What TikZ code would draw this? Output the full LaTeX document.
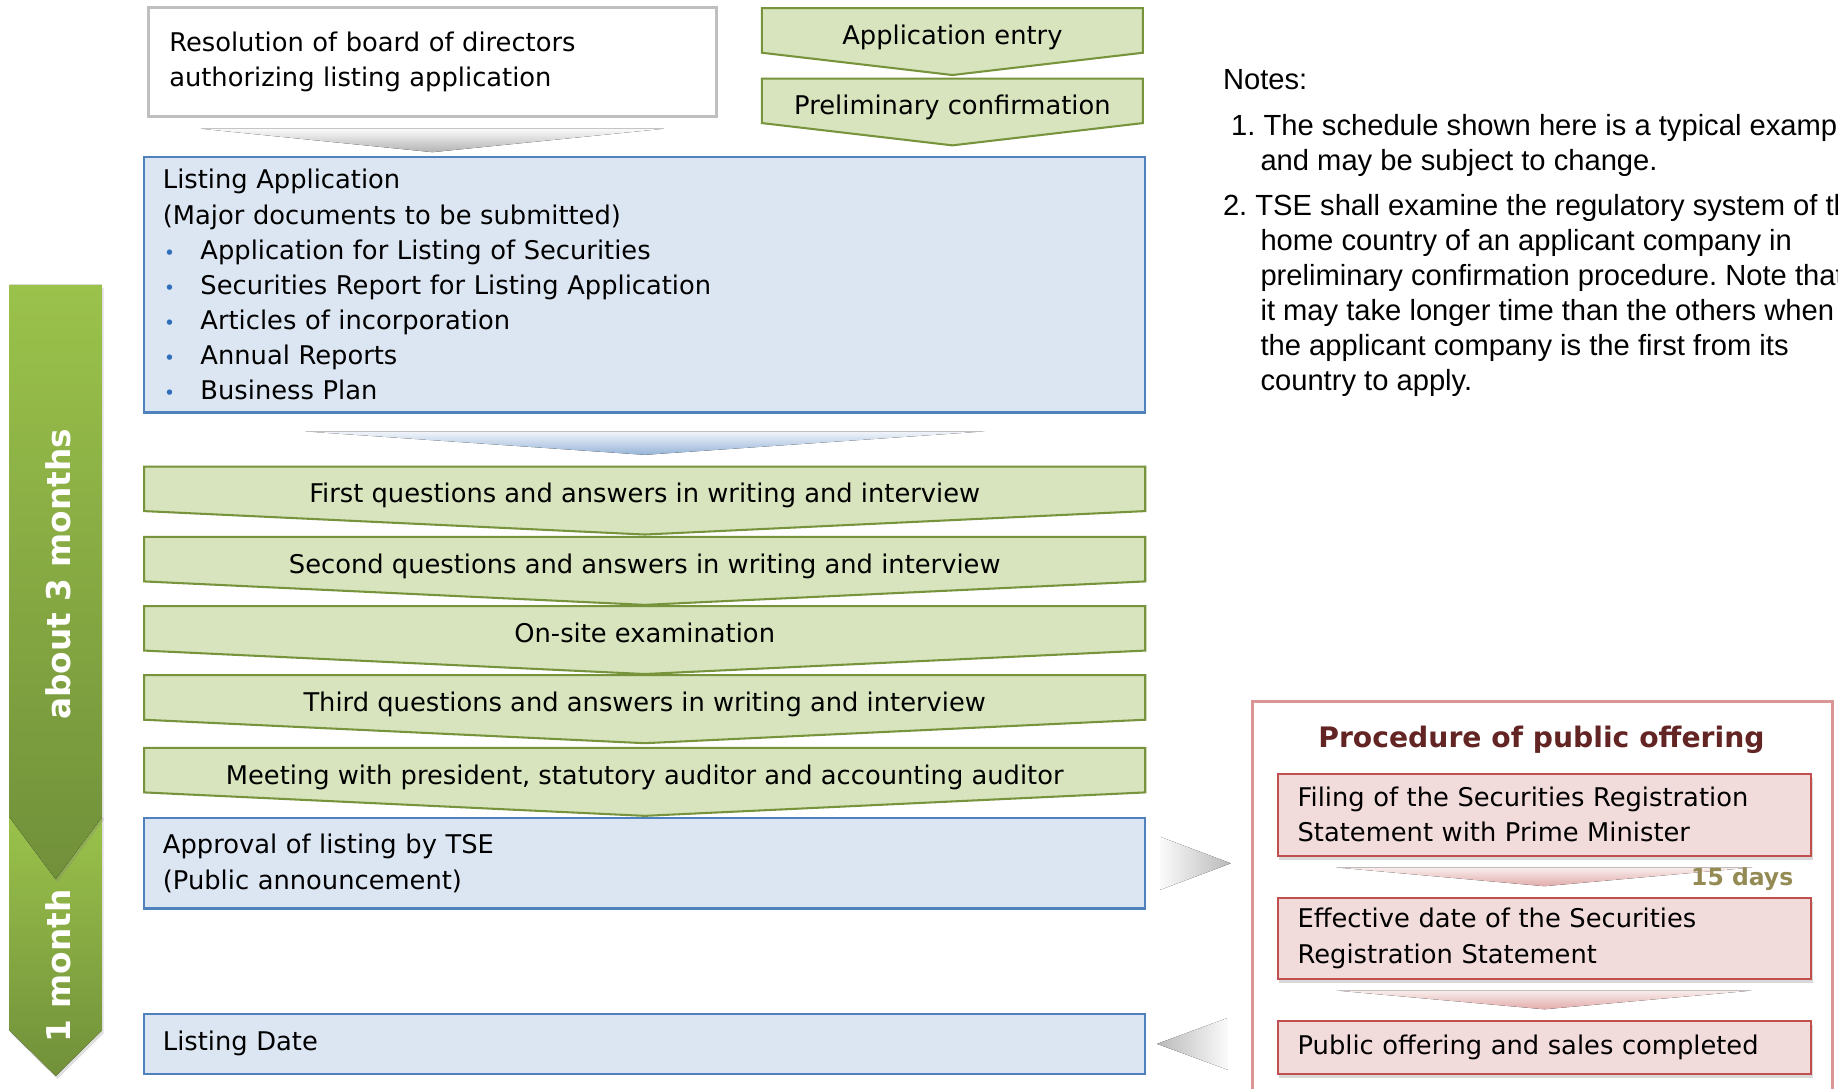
\documentclass[tikz,border=0pt]{standalone}
\usepackage{fontspec}
\setmainfont{DejaVu Sans}
\newfontfamily\notefont{Liberation Sans}
\usepackage{tikz}
\usetikzlibrary{calc,positioning,shadows,backgrounds}

\definecolor{chevfill}{HTML}{D7E4BD}
\definecolor{chevline}{HTML}{77933C}
\definecolor{appfill}{HTML}{DCE6F2}
\definecolor{appline}{HTML}{4F81BD}
\definecolor{pofill}{HTML}{F2DCDB}
\definecolor{poline}{HTML}{C0504D}
\definecolor{poframe}{HTML}{D99694}
\definecolor{potitle}{HTML}{632523}
\definecolor{dayscol}{HTML}{948A54}
\definecolor{boxgray}{HTML}{BFBFBF}
\definecolor{barlight}{HTML}{9BC24B}
\definecolor{bardark}{HTML}{71903A}
\definecolor{bulletblue}{HTML}{2F6EBA}

\newcommand{\docitem}[1]{\makebox[0.64cm][l]{\hspace{0.02cm}\textcolor{bulletblue}{\small\textbullet}}#1}

\frenchspacing
\begin{document}
\begin{tikzpicture}[
  font=\fontsize{12.5pt}{17.07pt}\selectfont,
  resbox/.style={rectangle,draw=boxgray,line width=1.6pt,fill=white,anchor=north west,
                 minimum width=9.7cm,minimum height=1.86cm,text width=8.98cm,
                 inner xsep=0.36cm,align=left},
  appbox/.style={rectangle,draw=appline,line width=1.1pt,fill=appfill,anchor=north west,
                 outer sep=0pt,minimum width=17.08cm,text width=16.44cm,inner xsep=0.32cm,
                 align=left},
  stage/.style={rectangle,minimum height=0.76cm,inner sep=0pt,outer sep=0pt,
                text height=0.48cm,text depth=0cm,anchor=north west},
  chev/.style={fill=chevfill,draw=chevline,line width=1pt},
  pobox/.style={rectangle,draw=poline,line width=1.1pt,fill=pofill,anchor=north west,
                outer sep=0pt,minimum width=9.1cm,text width=8.42cm,inner xsep=0.34cm,
                align=left,
                drop shadow={shadow xshift=0.03cm,shadow yshift=-0.07cm,opacity=0.3}},
  bar/.style={top color=barlight,bottom color=bardark,
              drop shadow={shadow xshift=0.03cm,shadow yshift=-0.05cm,opacity=0.25}},
  barlabel/.style={rotate=90,text=white,font=\bfseries\fontsize{15.9pt}{18pt}\selectfont},
  notes/.style={anchor=north west,inner sep=0pt,align=left,
                font=\notefont\fontsize{14.15pt}{17.07pt}\selectfont}]

\useasboundingbox (0,0) rectangle (31.36,-18.58);
\clip (0,0) rectangle (31.36,-18.58);

% time bars on the left
\fill[bar] (0.16,-13.9) -- (1.74,-13.9) -- (1.74,-17.58) -- (0.95,-18.36)
  -- (0.16,-17.58) -- cycle;
\fill[bar] (0.16,-4.86) -- (1.74,-4.86) -- (1.74,-13.94) -- (0.95,-15.0)
  -- (0.16,-13.94) -- cycle;
\node[barlabel] (threemonths) at (1.0,-9.8) {about 3 months};
\node[barlabel] (onemonth) at (1.0,-16.48) {1 month};

% TSE side
\node[resbox] (resol) at (2.5,-0.1)
  {Resolution of board of directors\\authorizing listing application};

\node[stage,minimum width=6.5cm] (entry) at (13.0,-0.14) {Application entry};
\node[stage,minimum width=6.5cm,below=0.44cm of entry] (prelim) {Preliminary confirmation};

\node[appbox,minimum height=4.36cm,inner xsep=0.3cm] (listing) at (2.46,-2.68)
  {Listing Application\\
   (Major documents to be submitted)\\
   \docitem{Application for Listing of Securities}\\
   \docitem{Securities Report for Listing Application}\\
   \docitem{Articles of incorporation}\\
   \docitem{Annual Reports}\\
   \docitem{Business Plan}};

\node[stage,minimum width=17.08cm] (first) at (2.46,-7.96)
  {First questions and answers in writing and interview};
\node[stage,minimum width=17.08cm,below=0.44cm of first] (second)
  {Second questions and answers in writing and interview};
\node[stage,minimum width=17.08cm,below=0.42cm of second] (onsite)
  {On-site examination};
\node[stage,minimum width=17.08cm,below=0.42cm of onsite] (third)
  {Third questions and answers in writing and interview};
\node[stage,minimum width=17.08cm,below=0.48cm of third] (meeting)
  {Meeting with president, statutory auditor and accounting auditor};

\node[appbox,minimum height=1.54cm,below=0.44cm of meeting] (approval)
  {Approval of listing by TSE\\(Public announcement)};
\node[appbox,minimum height=1.02cm,below=1.8cm of approval] (listdate) {Listing Date};

\begin{scope}[on background layer]
  \foreach \n/\d in {entry/0.38,prelim/0.38,first/0.4,second/0.4,onsite/0.4,third/0.4,meeting/0.4}
    \filldraw[chev] (\n.north west) -- (\n.north east) -- (\n.south east)
      -- ([yshift=-\d cm]\n.south) -- (\n.south west) -- cycle;
\end{scope}

\fill[top color=gray!4,bottom color=gray!60]
  ($(resol.south)+(-3.95,-0.18)$) -- ($(resol.south)+(3.95,-0.18)$)
  -- ($(resol.south)+(0,-0.58)$) -- cycle;
\fill[top color=appfill!40,bottom color=appline!60]
  ($(listing.south)+(-5.8,-0.32)$) -- ($(listing.south)+(5.8,-0.32)$)
  -- ($(listing.south)+(0,-0.72)$) -- cycle;

% public offering side
\node[rectangle,draw=poframe,line width=1.6pt,anchor=north west,
      minimum width=9.9cm,minimum height=7.3cm] (poframe) at (21.34,-11.94) {};
\node[text=potitle,font=\bfseries\fontsize{13.7pt}{16pt}\selectfont] (potitle)
  at (26.3,-12.62) {Procedure of public offering};

\node[pobox,minimum height=1.4cm] (filing) at (21.8,-13.2)
  {Filing of the Securities Registration\\Statement with Prime Minister};
\node[pobox,minimum height=1.38cm,below=0.72cm of filing] (effective)
  {Effective date of the Securities\\Registration Statement};
\node[pobox,minimum height=0.9cm,below=0.72cm of effective] (offering)
  {Public offering and sales completed};

\foreach \n in {filing,effective}
  \fill[top color=pofill!50,bottom color=poframe!80]
    ($(\n.south)+(-3.55,-0.2)$) -- ($(\n.south)+(3.55,-0.2)$)
    -- ($(\n.south)+(0,-0.52)$) -- cycle;
\node[anchor=east,text=dayscol,font=\bfseries\fontsize{11.4pt}{13pt}\selectfont] (days)
  at (30.72,-15.0) {15 days};

\fill[left color=gray!4,right color=gray!55]
  ($(approval.east)+(0.26,0.45)$) -- ($(approval.east)+(1.46,0)$)
  -- ($(approval.east)+(0.26,-0.45)$) -- cycle;
\fill[left color=gray!55,right color=gray!4]
  ($(listdate.east)+(0.2,0)$) -- ($(listdate.east)+(1.4,0.44)$)
  -- ($(listdate.east)+(1.4,-0.44)$) -- cycle;

% notes
\node[notes] (notes) at (20.86,-1.18)
  {Notes:\\[0.18cm]
   \hspace*{0.14cm}1. The schedule shown here is a typical example\\
   \hspace*{0.64cm}and may be subject to change.\\[0.16cm]
   2. TSE shall examine the regulatory system of the\\
   \hspace*{0.64cm}home country of an applicant company in\\
   \hspace*{0.64cm}preliminary confirmation procedure. Note that\\
   \hspace*{0.64cm}it may take longer time than the others when\\
   \hspace*{0.64cm}the applicant company is the first from its\\
   \hspace*{0.64cm}country to apply.};
\end{tikzpicture}
\end{document}
